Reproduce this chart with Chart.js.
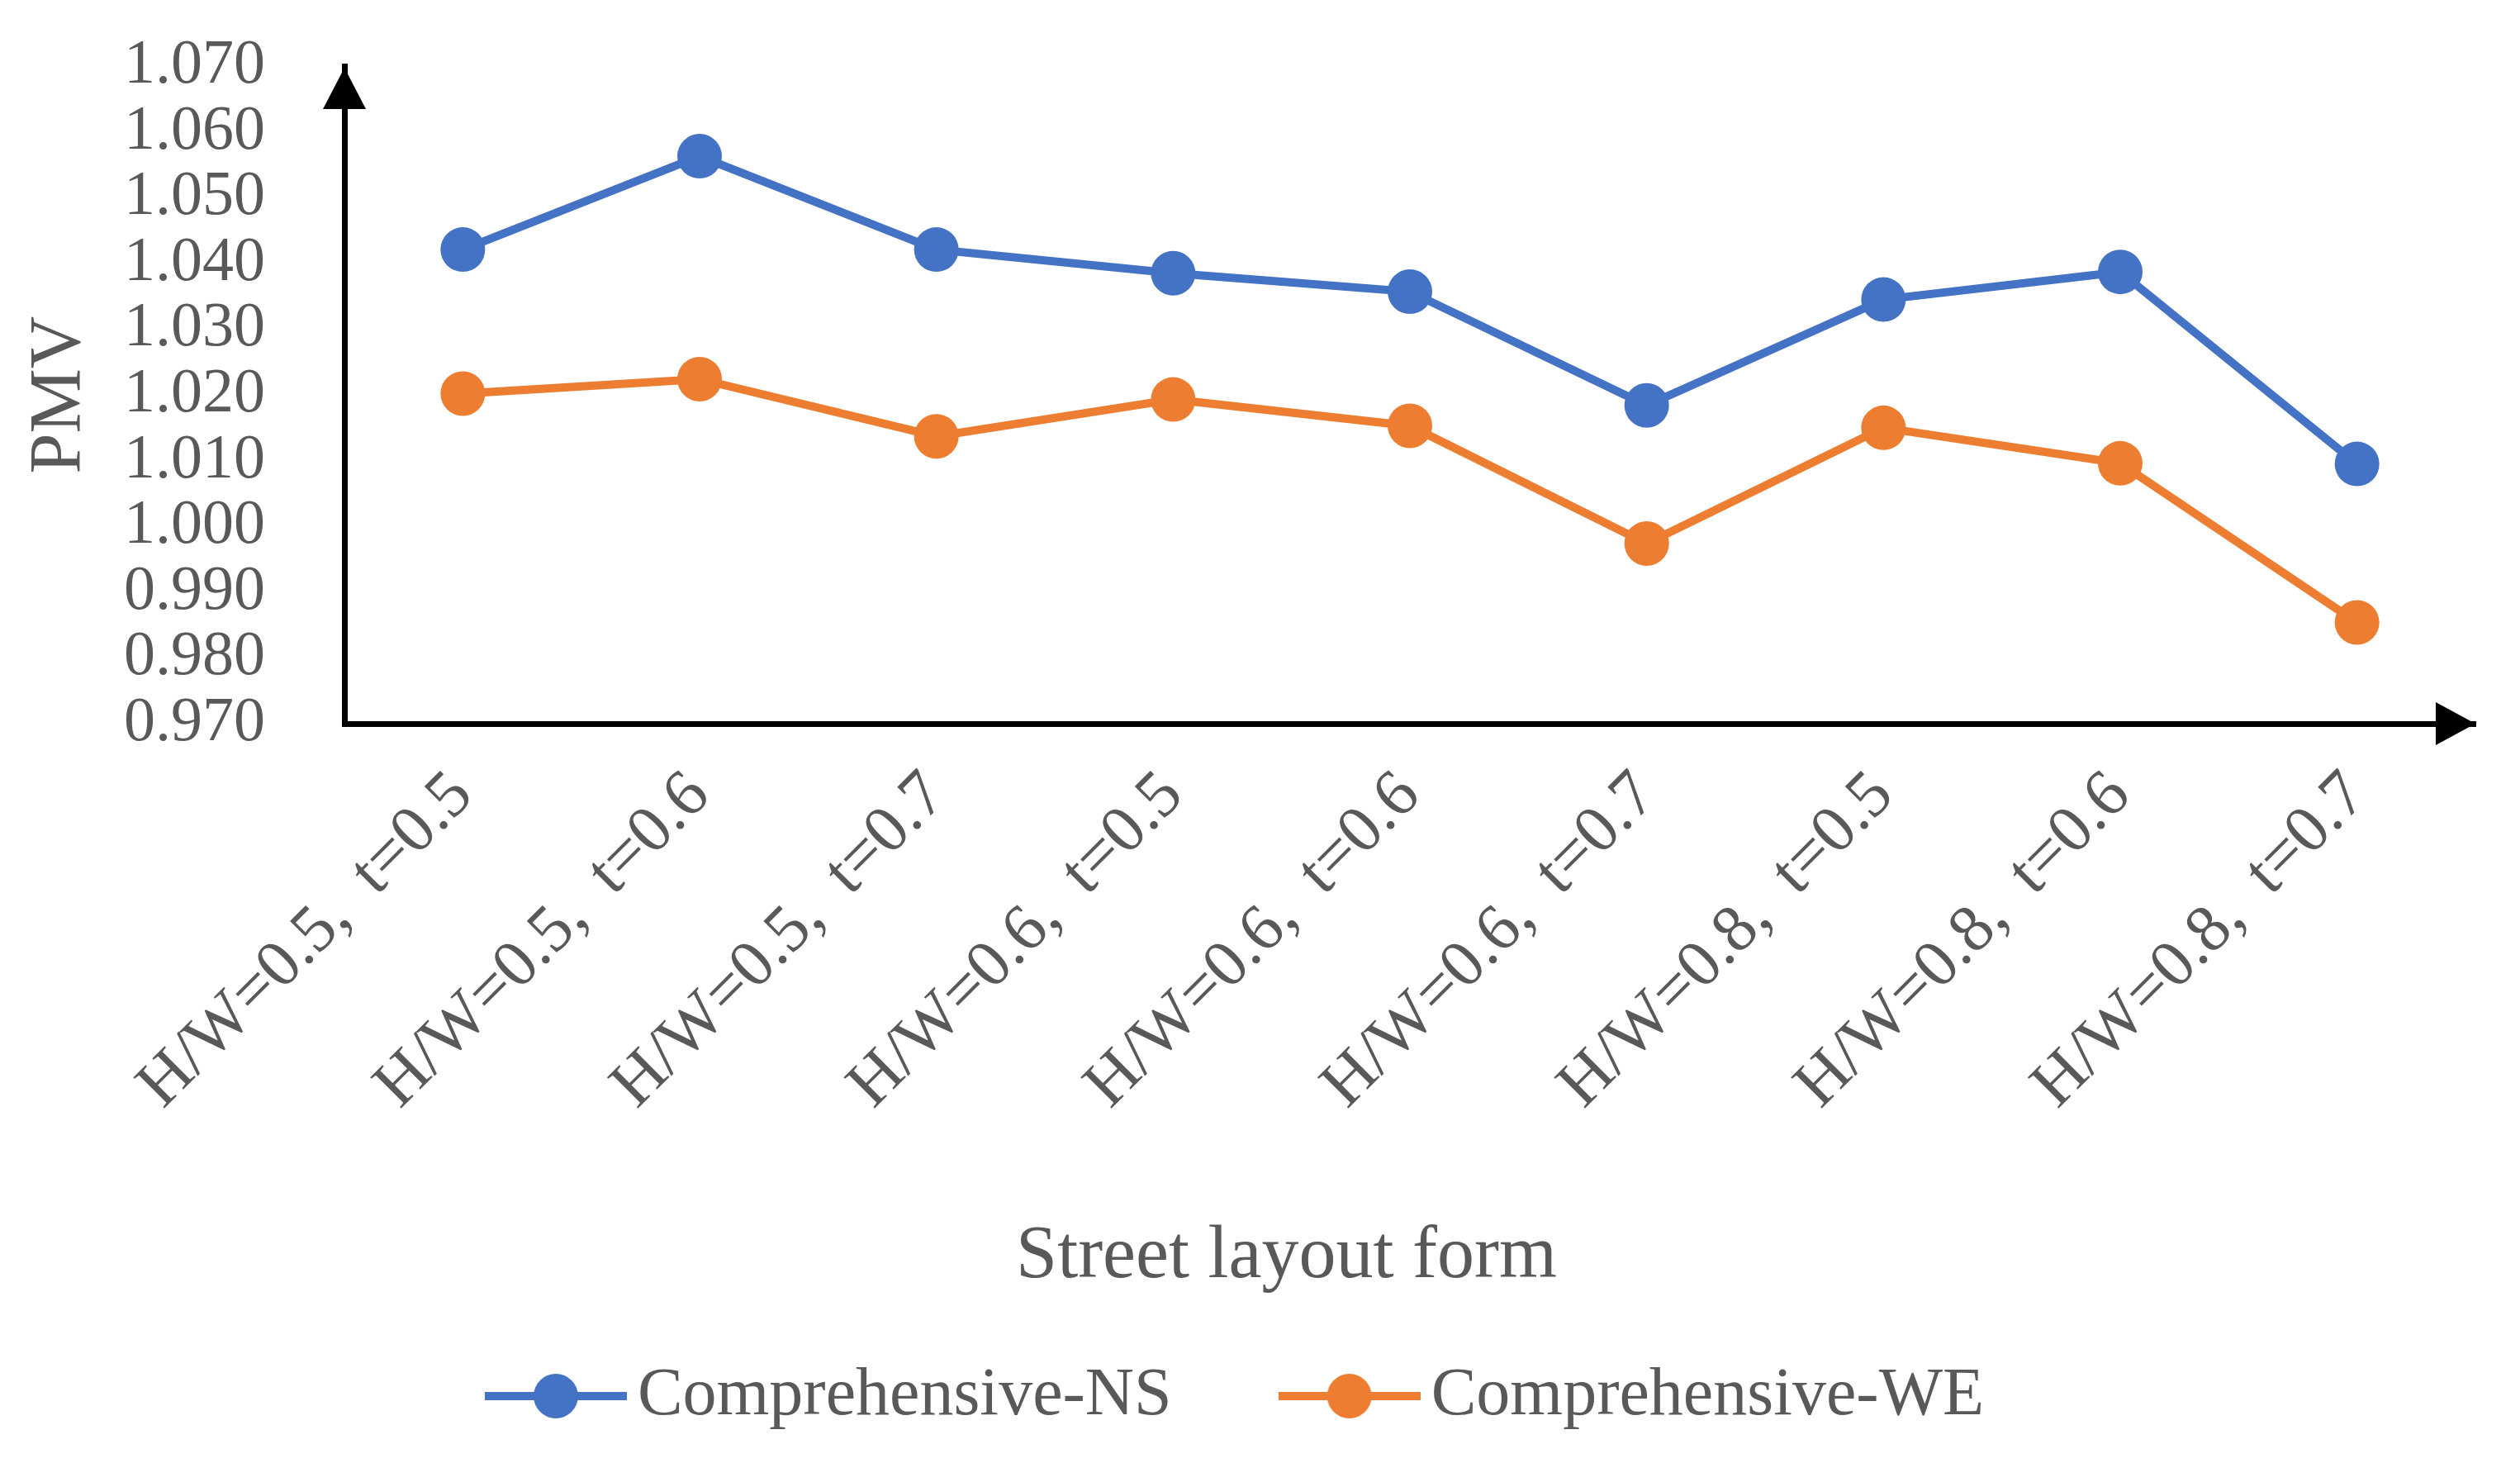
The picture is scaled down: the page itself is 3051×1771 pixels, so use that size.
<!DOCTYPE html>
<html>
<head>
<meta charset="utf-8">
<script src="https://cdn.jsdelivr.net/npm/chart.js@4.4.1/dist/chart.umd.min.js"></script>
<style>
  html, body { margin: 0; padding: 0; background: #ffffff; }
  #wrap { width: 3051px; height: 1771px; }
</style>
</head>
<body>
<div id="wrap"><canvas id="c" width="3051" height="1771"></canvas></div>
<script>
const categories = [
  "H/W=0.5,  t=0.5", "H/W=0.5,  t=0.6", "H/W=0.5,  t=0.7",
  "H/W=0.6,  t=0.5", "H/W=0.6,  t=0.6", "H/W=0.6,  t=0.7",
  "H/W=0.8,  t=0.5", "H/W=0.8,  t=0.6", "H/W=0.8,  t=0.7"
];
const seriesNS = [1.0421, 1.0563, 1.0421, 1.0385, 1.0357, 1.0184, 1.0345, 1.0387, 1.0095];
const seriesWE = [1.0202, 1.0224, 1.0137, 1.0193, 1.0153, 0.9974, 1.0150, 1.0096, 0.9854];
const seriesNames = ["Comprehensive-NS", "Comprehensive-WE"];
const xTitle = "Street layout form";
const yTitle = "PMV";
const yMin = 0.970, yMax = 1.070, yStep = 0.010;

const BLUE = "#4472C4", ORANGE = "#ED7D31", TEXT = "#595959";
const FONT = "'Liberation Serif', 'Times New Roman', serif";

function legendIcon(color) {
  const c = document.createElement('canvas');
  c.width = 172; c.height = 56;
  const g = c.getContext('2d');
  g.strokeStyle = color; g.lineWidth = 10;
  g.beginPath(); g.moveTo(0, 28); g.lineTo(172, 28); g.stroke();
  g.fillStyle = color;
  g.beginPath(); g.arc(86, 28, 27, 0, Math.PI * 2); g.fill();
  return c;
}

const arrows = {
  id: 'arrows',
  afterDraw(chart) {
    const { ctx, chartArea: a } = chart;
    ctx.save();
    ctx.fillStyle = '#000';
    const yx = a.left;
    ctx.beginPath();
    ctx.moveTo(yx, a.top + 2);
    ctx.lineTo(yx - 26, a.top + 52);
    ctx.lineTo(yx + 26, a.top + 52);
    ctx.closePath(); ctx.fill();
    const xy = a.bottom;
    ctx.beginPath();
    ctx.moveTo(a.right, xy);
    ctx.lineTo(a.right - 48, xy - 26);
    ctx.lineTo(a.right - 48, xy + 26);
    ctx.closePath(); ctx.fill();
    // x-axis title
    ctx.fillStyle = TEXT;
    ctx.font = "90px " + FONT;
    ctx.textAlign = 'center';
    ctx.textBaseline = 'middle';
    ctx.fillText(xTitle, chart.width / 2 + 32, a.bottom + 646);
    ctx.restore();
  }
};

new Chart(document.getElementById('c'), {
  type: 'line',
  data: {
    labels: categories,
    datasets: [
      { label: seriesNames[0], data: seriesNS, borderColor: BLUE, backgroundColor: BLUE,
        borderWidth: 10, pointRadius: 27, pointBorderWidth: 0, pointBackgroundColor: BLUE,
        pointStyle: 'circle', tension: 0 },
      { label: seriesNames[1], data: seriesWE, borderColor: ORANGE, backgroundColor: ORANGE,
        borderWidth: 10, pointRadius: 27, pointBorderWidth: 0, pointBackgroundColor: ORANGE,
        pointStyle: 'circle', tension: 0 }
    ]
  },
  options: {
    responsive: false,
    animation: false,
    devicePixelRatio: 1,
    layout: { padding: { top: 80, right: 54, left: 20, bottom: 30 } },
    plugins: {
      tooltip: { enabled: false },
      legend: {
        position: 'bottom',
        labels: {
          usePointStyle: true,
          pointStyleWidth: 116,
          boxHeight: 56,
          padding: 157,
          color: TEXT,
          font: { family: FONT, size: 82 },
          generateLabels(chart) {
            return chart.data.datasets.map((d, i) => ({
              text: d.label, fillStyle: d.borderColor, strokeStyle: d.borderColor,
              lineWidth: 0, pointStyle: legendIcon(d.borderColor), datasetIndex: i, fontColor: TEXT
            }));
          }
        }
      }
    },
    scales: {
      x: {
        offset: true,
        grid: { display: false, drawTicks: false },
        border: { display: true, color: '#000', width: 7 },
        ticks: { autoSkip: false, maxRotation: 45, minRotation: 45, padding: 40,
                 color: TEXT, font: { family: FONT, size: 81 } },
        title: { display: true, text: xTitle, color: 'rgba(0,0,0,0)',
                 font: { family: FONT, size: 86 }, padding: { top: 0, bottom: -14 } }
      },
      y: {
        min: yMin, max: yMax,
        afterFit(scale) { scale.width = 397; },
        grid: { display: false, drawTicks: true, tickLength: 90 },
        border: { display: true, color: '#000', width: 7 },
        ticks: { stepSize: yStep, autoSkip: false, padding: 6, color: TEXT,
                 font: { family: FONT, size: 76 },
                 callback: v => Number(v).toFixed(3) },
        title: { display: true, text: yTitle, color: TEXT,
                 font: { family: FONT, size: 88 }, padding: { top: 0, bottom: 28 } }
      }
    }
  },
  plugins: [arrows]
});
</script>
</body>
</html>
